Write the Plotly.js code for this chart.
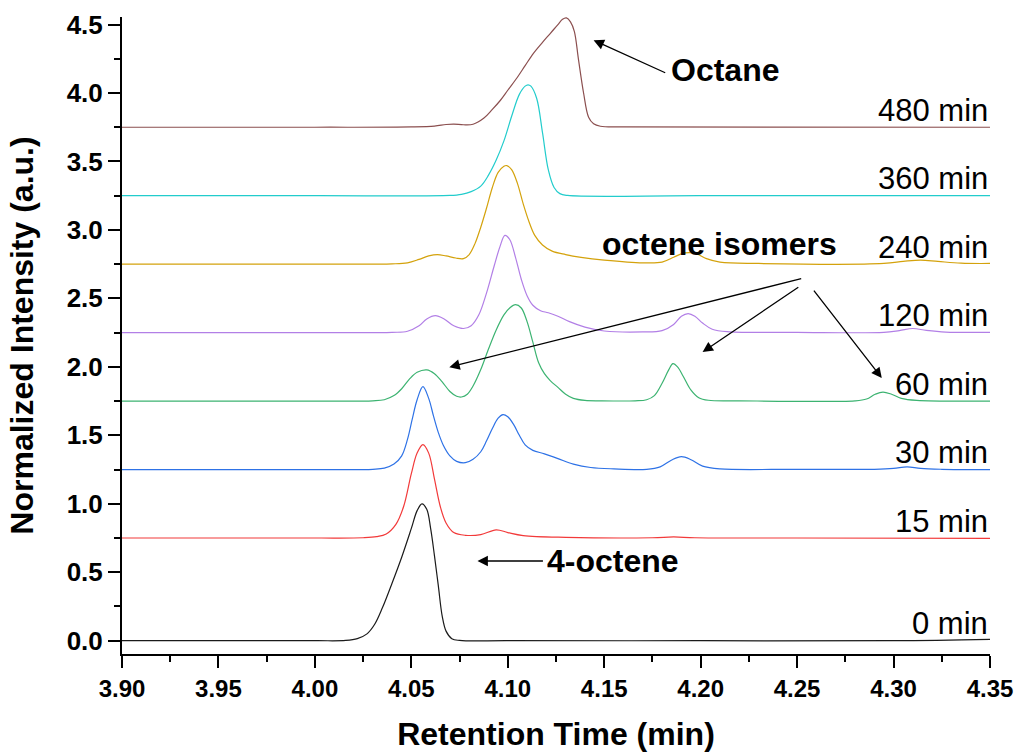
<!DOCTYPE html>
<html>
<head>
<meta charset="utf-8">
<script src="https://cdn.plot.ly/plotly-3.0.1.min.js"></script>
<style>html,body{margin:0;padding:0;background:#fff;}#chart{width:1019px;height:756px;}</style>
</head>
<body>
<div id="chart"></div>
<script>
// Series labels (reaction time) and their baselines
var seriesLabels = ["0 min", "15 min", "30 min", "60 min", "120 min", "240 min", "360 min", "480 min"];
var seriesBaselines = [0, 0.75, 1.25, 1.75, 2.25, 2.75, 3.25, 3.75];

// Retention time (min) and normalized intensity
var t0 = [3.90, 4.00, 4.016, 4.022, 4.027, 4.031, 4.035, 4.040, 4.045, 4.050, 4.053, 4.0555, 4.058, 4.060, 4.062, 4.064, 4.066, 4.068, 4.071, 4.075, 4.10, 4.20, 4.30, 4.35];
var y0 = [0, 0, 0.002, 0.015, 0.05, 0.12, 0.24, 0.42, 0.61, 0.82, 0.95, 1.0, 0.96, 0.82, 0.62, 0.40, 0.18, 0.07, 0.015, 0.002, 0, 0, 0, 0.01];

var t15 = [3.90, 4.00, 4.025, 4.032, 4.037, 4.042, 4.046, 4.050, 4.053, 4.056, 4.059, 4.062, 4.065, 4.068, 4.072, 4.078, 4.086, 4.094, 4.100, 4.108, 4.13, 4.175, 4.186, 4.197, 4.25, 4.35];
var y15 = [0.75, 0.75, 0.752, 0.76, 0.78, 0.85, 0.98, 1.22, 1.37, 1.432, 1.37, 1.18, 0.98, 0.86, 0.79, 0.77, 0.775, 0.81, 0.79, 0.768, 0.755, 0.752, 0.758, 0.752, 0.75, 0.748];

var t30 = [3.90, 4.00, 4.030, 4.036, 4.041, 4.045, 4.048, 4.0505, 4.053, 4.056, 4.059, 4.0615, 4.064, 4.0665, 4.070, 4.0735, 4.078, 4.082, 4.086, 4.089, 4.092, 4.095, 4.0975, 4.100, 4.103, 4.106, 4.109, 4.113, 4.119, 4.126, 4.134, 4.143, 4.155, 4.172, 4.179, 4.185, 4.190, 4.195, 4.201, 4.21, 4.25, 4.29, 4.300, 4.307, 4.314, 4.325, 4.35];
var y30 = [1.25, 1.25, 1.252, 1.26, 1.29, 1.35, 1.47, 1.62, 1.76, 1.855, 1.77, 1.64, 1.52, 1.43, 1.35, 1.31, 1.30, 1.325, 1.38, 1.46, 1.55, 1.625, 1.651, 1.635, 1.58, 1.50, 1.43, 1.39, 1.365, 1.33, 1.29, 1.265, 1.255, 1.252, 1.27, 1.32, 1.344, 1.322, 1.275, 1.255, 1.252, 1.252, 1.258, 1.27, 1.258, 1.252, 1.25];

var t60 = [3.90, 4.00, 4.030, 4.036, 4.041, 4.045, 4.049, 4.053, 4.058, 4.062, 4.066, 4.070, 4.0735, 4.076, 4.079, 4.082, 4.086, 4.090, 4.094, 4.098, 4.101, 4.104, 4.107, 4.110, 4.113, 4.116, 4.119, 4.122, 4.126, 4.130, 4.134, 4.140, 4.148, 4.166, 4.172, 4.176, 4.180, 4.1835, 4.1856, 4.188, 4.191, 4.195, 4.199, 4.204, 4.22, 4.28, 4.286, 4.2905, 4.2945, 4.299, 4.304, 4.312, 4.35];
var y60 = [1.75, 1.75, 1.752, 1.76, 1.79, 1.84, 1.91, 1.96, 1.978, 1.95, 1.89, 1.82, 1.785, 1.78, 1.80, 1.86, 1.98, 2.13, 2.27, 2.38, 2.43, 2.454, 2.43, 2.33, 2.18, 2.03, 1.95, 1.90, 1.85, 1.80, 1.77, 1.755, 1.752, 1.752, 1.76, 1.79, 1.88, 1.98, 2.023, 2.00, 1.93, 1.83, 1.775, 1.756, 1.752, 1.752, 1.765, 1.80, 1.816, 1.80, 1.77, 1.755, 1.75];

var t120 = [3.90, 4.00, 4.040, 4.048, 4.054, 4.058, 4.0625, 4.067, 4.072, 4.077, 4.081, 4.085, 4.089, 4.093, 4.096, 4.0985, 4.101, 4.104, 4.107, 4.110, 4.113, 4.117, 4.121, 4.126, 4.132, 4.140, 4.150, 4.170, 4.180, 4.186, 4.190, 4.1935, 4.197, 4.201, 4.206, 4.215, 4.25, 4.295, 4.303, 4.310, 4.317, 4.327, 4.35];
var y120 = [2.25, 2.25, 2.252, 2.26, 2.30, 2.35, 2.374, 2.35, 2.30, 2.28, 2.30, 2.38, 2.54, 2.74, 2.88, 2.96, 2.93, 2.80, 2.64, 2.52, 2.45, 2.41, 2.395, 2.37, 2.33, 2.29, 2.262, 2.255, 2.265, 2.31, 2.37, 2.389, 2.37, 2.32, 2.275, 2.256, 2.252, 2.252, 2.265, 2.28, 2.266, 2.254, 2.252];

var t240 = [3.90, 4.00, 4.040, 4.048, 4.054, 4.059, 4.0635, 4.068, 4.073, 4.077, 4.080, 4.083, 4.086, 4.089, 4.092, 4.095, 4.098, 4.0995, 4.102, 4.105, 4.108, 4.111, 4.114, 4.118, 4.123, 4.130, 4.138, 4.150, 4.170, 4.180, 4.186, 4.190, 4.194, 4.198, 4.203, 4.210, 4.230, 4.295, 4.305, 4.314, 4.323, 4.335, 4.35];
var y240 = [2.75, 2.75, 2.752, 2.76, 2.785, 2.81, 2.82, 2.81, 2.795, 2.79, 2.82, 2.90, 3.02, 3.16, 3.31, 3.42, 3.465, 3.47, 3.44, 3.34, 3.19, 3.06, 2.96, 2.89, 2.845, 2.82, 2.80, 2.78, 2.76, 2.765, 2.80, 2.825, 2.834, 2.825, 2.79, 2.765, 2.755, 2.755, 2.77, 2.78, 2.77, 2.757, 2.755];

var t360 = [3.90, 4.00, 4.070, 4.076, 4.081, 4.086, 4.090, 4.094, 4.098, 4.102, 4.106, 4.109, 4.1105, 4.112, 4.115, 4.118, 4.121, 4.124, 4.127, 4.131, 4.20, 4.35];
var y360 = [3.25, 3.25, 3.252, 3.26, 3.28, 3.32, 3.40, 3.51, 3.65, 3.83, 3.99, 4.05, 4.06, 4.05, 3.96, 3.71, 3.44, 3.31, 3.265, 3.252, 3.25, 3.25];

var t480 = [3.90, 4.00, 4.050, 4.062, 4.068, 4.072, 4.077, 4.082, 4.0875, 4.092, 4.0962, 4.100, 4.105, 4.109, 4.1133, 4.118, 4.1221, 4.126, 4.1284, 4.1304, 4.1325, 4.1345, 4.1367, 4.1393, 4.1419, 4.1445, 4.148, 4.16, 4.35];
var y480 = [3.75, 3.75, 3.752, 3.758, 3.77, 3.773, 3.768, 3.772, 3.815, 3.88, 3.947, 4.02, 4.115, 4.20, 4.29, 4.37, 4.436, 4.50, 4.538, 4.548, 4.52, 4.45, 4.24, 4.00, 3.823, 3.775, 3.757, 3.752, 3.75];

var seriesT = [t0, t15, t30, t60, t120, t240, t360, t480];
var seriesY = [y0, y15, y30, y60, y120, y240, y360, y480];
var seriesColors = ["#1a1a1a", "#f23a3a", "#2e72e6", "#3cb371", "#b27fe6", "#d4a20c", "#22cccc", "#8b4f4f"];

var xTickVals = [3.90, 3.95, 4.00, 4.05, 4.10, 4.15, 4.20, 4.25, 4.30, 4.35];
var yTickVals = [0.0, 0.5, 1.0, 1.5, 2.0, 2.5, 3.0, 3.5, 4.0, 4.5];

var FONT = "Liberation Sans, Arial, Helvetica, sans-serif";

var traces = [];
for (var i = 0; i < seriesT.length; i++) {
  traces.push({
    type: "scatter",
    mode: "lines",
    name: seriesLabels[i],
    x: seriesT[i],
    y: seriesY[i],
    line: {color: seriesColors[i], width: 1.2, shape: "spline", smoothing: 1},
    hoverinfo: "x+y+name"
  });
}

var annotations = [];
// curve labels on the right
for (var j = 0; j < seriesLabels.length; j++) {
  annotations.push({
    x: 4.35, y: seriesBaselines[j], xref: "x", yref: "y",
    xanchor: "right", yanchor: "middle", yshift: 17,
    text: seriesLabels[j], showarrow: false,
    font: {family: FONT, size: 31, color: "#000"}
  });
}
function label(txt, x, y) {
  return {x: x, y: y, xref: "x", yref: "y", text: txt, showarrow: false,
          xanchor: "center", yanchor: "middle",
          font: {family: FONT, size: 32, color: "#000", weight: "bold"}};
}
function arrow(hx, hy, tx, ty) {
  return {x: hx, y: hy, ax: tx, ay: ty, xref: "x", yref: "y", axref: "x", ayref: "y",
          text: "", showarrow: true, arrowhead: 2, arrowsize: 1.6, arrowwidth: 1.3,
          arrowcolor: "#000", standoff: 0, startstandoff: 0};
}
annotations.push(label("Octane", 4.2125, 4.166));
annotations.push(arrow(4.1445, 4.385, 4.1824, 4.143));
annotations.push(label("4-octene", 4.1543, 0.582));
annotations.push(arrow(4.0843, 0.582, 4.1190, 0.582));
annotations.push(label("octene isomers", 4.2099, 2.896));
annotations.push(arrow(4.0697, 1.998, 4.2529, 2.647));
annotations.push(arrow(4.2010, 2.108, 4.2514, 2.589));
annotations.push(arrow(4.2939, 1.918, 4.2581, 2.567));

var layout = {
  width: 1019, height: 756,
  margin: {l: 122, r: 29, t: 17, b: 102, pad: 0},
  paper_bgcolor: "#fff", plot_bgcolor: "#fff",
  showlegend: false,
  font: {family: FONT, color: "#000"},
  xaxis: {
    range: [3.90, 4.35],
    tickvals: xTickVals, tickformat: ".2f",
    ticks: "outside", ticklen: 12, tickwidth: 2, tickcolor: "#000",
    minor: {dtick: 0.025, tick0: 3.9, ticks: "outside", ticklen: 6, tickwidth: 2, tickcolor: "#000", showgrid: false},
    showline: true, linecolor: "#000", linewidth: 2, mirror: false,
    showgrid: false, zeroline: false,
    tickfont: {family: FONT, size: 24, color: "#000", weight: "bold"},
    title: {text: "Retention Time (min)", standoff: 22,
            font: {family: FONT, size: 32, color: "#000", weight: "bold"}}
  },
  yaxis: {
    range: [-0.097, 4.555],
    tickvals: yTickVals, tickformat: ".1f",
    ticks: "outside", ticklen: 12, tickwidth: 2, tickcolor: "#000",
    minor: {dtick: 0.25, tick0: 0, ticks: "outside", ticklen: 6, tickwidth: 2, tickcolor: "#000", showgrid: false},
    showline: true, linecolor: "#000", linewidth: 2, mirror: false,
    showgrid: false, zeroline: false,
    tickfont: {family: FONT, size: 26, color: "#000", weight: "bold"},
    title: {text: "Normalized Intensity (a.u.)", standoff: 23,
            font: {family: FONT, size: 32, color: "#000", weight: "bold"}}
  },
  annotations: annotations
};

Plotly.newPlot("chart", traces, layout, {displayModeBar: false, staticPlot: true});
</script>
</body>
</html>
